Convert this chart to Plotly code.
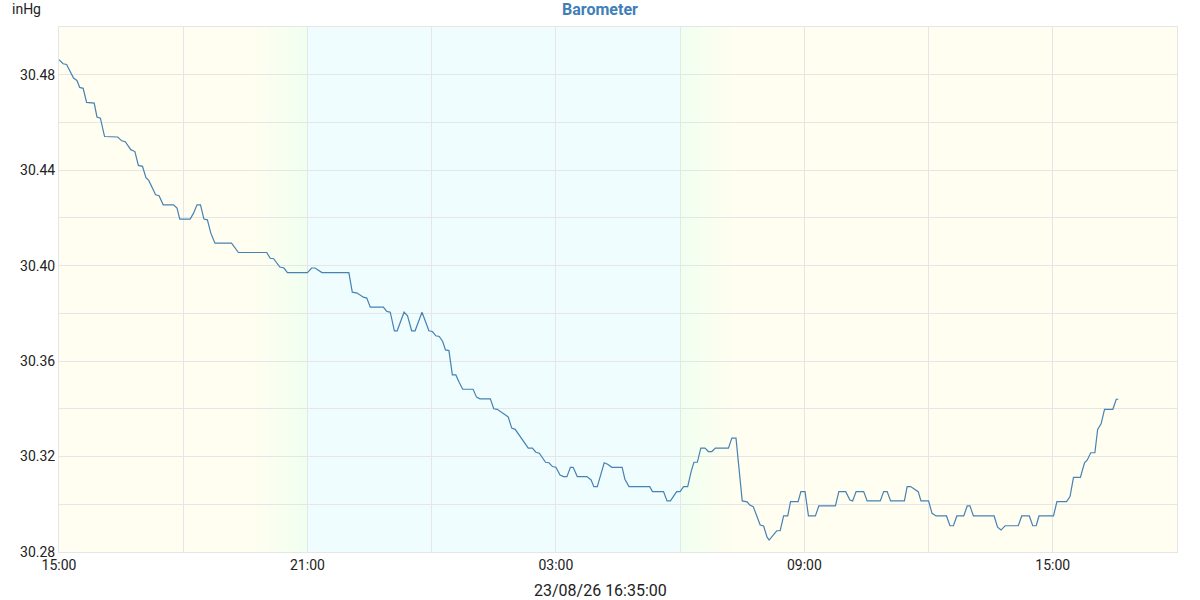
import pandas as pd
import plotly.graph_objects as go

start = pd.Timestamp("2023-08-25 15:00")

# minutes after 15:00 and barometer reading (inHg)
minutes = [
    0, 6, 11, 21, 26, 30, 35, 40, 51, 55,
    60, 66, 85, 91, 96, 104, 110, 115, 121, 126,
    130, 140, 145, 151, 166, 171, 175, 190, 195, 200,
    205, 210, 215, 220, 226, 250, 260, 301, 306, 311,
    320, 326, 331, 360, 366, 371, 381, 420, 425, 432,
    441, 446, 451, 470, 475, 480, 486, 490, 500, 505,
    511, 516, 526, 530, 536, 541, 546, 551, 556, 560,
    565, 570, 575, 580, 585, 600, 605, 610, 625, 630,
    635, 649, 651, 656, 661, 678, 680, 686, 691, 696,
    705, 710, 715, 720, 726, 731, 736, 741, 745, 751,
    765, 771, 775, 780, 790, 795, 801, 816, 820, 826,
    856, 860, 876, 881, 886, 895, 900, 905, 911, 916,
    920, 925, 930, 936, 941, 946, 951, 970, 975, 981,
    990, 997, 1001, 1006, 1016, 1021, 1026, 1029, 1040, 1045,
    1050, 1056, 1060, 1071, 1075, 1081, 1086, 1096, 1101, 1125,
    1130, 1140, 1146, 1150, 1155, 1166, 1171, 1190, 1195, 1200,
    1205, 1225, 1229, 1234, 1245, 1249, 1260, 1265, 1271, 1286,
    1291, 1296, 1301, 1311, 1316, 1320, 1325, 1355, 1360, 1365,
    1371, 1390, 1395, 1406, 1411, 1416, 1420, 1441, 1446, 1460,
    1465, 1470, 1480, 1486, 1490, 1495, 1501, 1505, 1510, 1515,
    1527, 1532, 1535,
]
pressure = [
    30.4863, 30.4846, 30.4843, 30.4786, 30.4776, 30.4747, 30.4743, 30.4684, 30.4681, 30.4623,
    30.4618, 30.4541, 30.4539, 30.4523, 30.4519, 30.4486, 30.4478, 30.4420, 30.4416, 30.4369,
    30.4357, 30.4297, 30.4293, 30.4255, 30.4255, 30.4241, 30.4195, 30.4195, 30.4220, 30.4255,
    30.4255, 30.4195, 30.4192, 30.4136, 30.4094, 30.4094, 30.4055, 30.4055, 30.4031, 30.4029,
    30.3994, 30.3990, 30.3971, 30.3971, 30.3990, 30.3990, 30.3971, 30.3971, 30.3889, 30.3885,
    30.3868, 30.3864, 30.3826, 30.3826, 30.3808, 30.3805, 30.3727, 30.3727, 30.3805, 30.3790,
    30.3727, 30.3727, 30.3805, 30.3773, 30.3727, 30.3724, 30.3706, 30.3703, 30.3682, 30.3647,
    30.3644, 30.3542, 30.3542, 30.3510, 30.3482, 30.3482, 30.3449, 30.3442, 30.3442, 30.3400,
    30.3398, 30.3370, 30.3365, 30.3319, 30.3314, 30.3244, 30.3235, 30.3235, 30.3218, 30.3214,
    30.3176, 30.3174, 30.3158, 30.3155, 30.3123, 30.3116, 30.3116, 30.3155, 30.3155, 30.3116,
    30.3116, 30.3102, 30.3074, 30.3074, 30.3174, 30.3168, 30.3155, 30.3155, 30.3105, 30.3074,
    30.3074, 30.3053, 30.3053, 30.3014, 30.3014, 30.3053, 30.3053, 30.3074, 30.3074, 30.3137,
    30.3176, 30.3176, 30.3235, 30.3235, 30.3221, 30.3221, 30.3235, 30.3235, 30.3277, 30.3277,
    30.3014, 30.3010, 30.2997, 30.2990, 30.2913, 30.2909, 30.2862, 30.2850, 30.2889, 30.2889,
    30.2951, 30.2951, 30.3011, 30.3011, 30.3053, 30.3053, 30.2951, 30.2951, 30.2993, 30.2993,
    30.3053, 30.3053, 30.3018, 30.3014, 30.3053, 30.3053, 30.3014, 30.3014, 30.3053, 30.3053,
    30.3014, 30.3014, 30.3074, 30.3074, 30.3053, 30.3014, 30.3014, 30.2962, 30.2951, 30.2951,
    30.2910, 30.2910, 30.2951, 30.2951, 30.2993, 30.2993, 30.2951, 30.2951, 30.2904, 30.2892,
    30.2910, 30.2910, 30.2951, 30.2951, 30.2910, 30.2910, 30.2951, 30.2951, 30.3011, 30.3011,
    30.3032, 30.3113, 30.3113, 30.3174, 30.3186, 30.3216, 30.3216, 30.3314, 30.3337, 30.3398,
    30.3398, 30.3440, 30.3440,
]

times = [start + pd.Timedelta(minutes=m) for m in minutes]

# day / night shading
dusk_start, night_start = "2023-08-25 19:40", "2023-08-25 21:00"
night_end, dawn_end = "2023-08-26 06:00", "2023-08-26 07:20"
day_rgb = (255, 254, 240)
green_rgb = (240, 255, 240)
night_rgb = (239, 253, 254)


def mix(a, b, f):
    return "rgb(%d,%d,%d)" % tuple(round(a[i] + (b[i] - a[i]) * f) for i in range(3))


shapes = [dict(type="rect", xref="x", yref="paper", x0=night_start, x1=night_end,
               y0=0, y1=1, fillcolor=mix(night_rgb, night_rgb, 0), line_width=0, layer="below")]
steps = 20
for t0, t1, rev in [(dusk_start, night_start, False), (night_end, dawn_end, True)]:
    a, b = pd.Timestamp(t0), pd.Timestamp(t1)
    span = (b - a) / steps
    for i in range(steps):
        f = (i + 0.5) / steps
        if rev:
            f = 1 - f
        shapes.append(dict(type="rect", xref="x", yref="paper",
                           x0=a + span * i, x1=a + span * (i + 1) + pd.Timedelta(seconds=20),
                           y0=0, y1=1, fillcolor=mix(day_rgb, green_rgb, f),
                           line_width=0, layer="below"))

fig = go.Figure(go.Scatter(x=times, y=pressure, mode="lines",
                           line=dict(color="#4682b4", width=1.2), hoverinfo="x+y"))

grid = "#e6e6e6"
fig.update_layout(
    width=1200, height=600,
    margin=dict(l=59, r=23, t=27, b=48),
    paper_bgcolor="white",
    plot_bgcolor=mix(day_rgb, day_rgb, 0),
    font=dict(family="Roboto", size=14, color="#222"),
    title=dict(text="<b>Barometer</b>", x=0.5, xref="container", xanchor="center",
               y=0.985, yref="container", yanchor="middle",
               font=dict(family="Roboto", size=16, color="#3f7fb8")),
    showlegend=False,
    shapes=shapes,
    annotations=[
        dict(text="inHg", xref="paper", yref="paper", x=-0.044, y=1.034,
             xanchor="left", yanchor="middle", showarrow=False, font=dict(size=14)),
        dict(text="23/08/26 16:35:00", xref="paper", yref="paper", x=0.484, y=-0.074,
             xanchor="center", yanchor="middle", showarrow=False, font=dict(size=16)),
    ],
)
fig.update_xaxes(
    type="date", range=["2023-08-25 15:00", "2023-08-26 18:00"],
    tick0="2023-08-25 15:00", dtick=6 * 3600000, tickformat="%H:%M",
    showgrid=True, gridcolor=grid, gridwidth=1,
    minor=dict(dtick=3 * 3600000, showgrid=True, gridcolor=grid, gridwidth=1),
    showline=True, linecolor=grid, mirror=True, zeroline=False, ticks="",
)
fig.update_yaxes(
    range=[30.28, 30.50], tick0=30.28, dtick=0.04, tickformat=".2f",
    showgrid=True, gridcolor=grid, gridwidth=1,
    minor=dict(dtick=0.02, showgrid=True, gridcolor=grid, gridwidth=1),
    showline=True, linecolor=grid, mirror=True, zeroline=False, ticks="",
)

# drop the default page margin so the chart sits at the window's top-left corner
fig.write_html("out.html", config={"displayModeBar": False},
               post_script="document.body.style.margin='0';")
